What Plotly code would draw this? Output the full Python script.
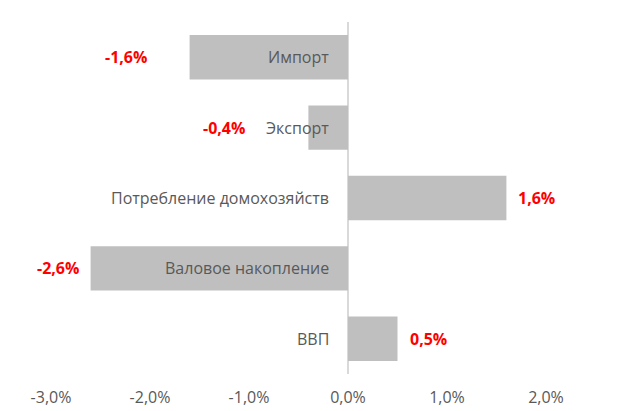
import plotly.graph_objects as go

categories = ["Импорт", "Экспорт", "Потребление домохозяйств", "Валовое накопление", "ВВП"]
values = [-1.6, -0.4, 1.6, -2.6, 0.5]
tick_vals = [-3, -2, -1, 0, 1, 2]

BAR = "#BFBFBF"
INK = "#595959"
RED = "#FF0000"
FONT = "Open Sans, sans-serif"

# extra gap (px) between bar end and value label; Excel pushed two of them further out
label_gap = [41, 61, 10, 10, 10]


def fmt(v):
    return f"{v:.1f}".replace(".", ",") + "%"


fig = go.Figure()
fig.add_trace(go.Bar(
    x=values, y=categories, orientation="h",
    marker=dict(color=BAR, line=dict(width=0)),
    hoverinfo="x+y", showlegend=False,
))

for cat, v, gap in zip(categories, values, label_gap):
    # category name, right-aligned just left of the zero line
    fig.add_annotation(x=0, y=cat, text=cat, showarrow=False, xanchor="right",
                       xshift=-17, font=dict(family=FONT, size=16, color=INK))
    # value label outside the bar end
    fig.add_annotation(x=v, y=cat, text=f"<b>{fmt(v)}</b>", showarrow=False,
                       xanchor="right" if v < 0 else "left",
                       xshift=-gap if v < 0 else gap,
                       font=dict(family=FONT, size=16, color=RED))

fig.update_layout(
    width=620, height=411,
    paper_bgcolor="white", plot_bgcolor="white",
    font=dict(family=FONT, size=13, color=INK),
    bargap=0.37,
    margin=dict(l=43, r=82, t=14, b=45),
    xaxis=dict(range=[-3, 2], tickvals=tick_vals, ticktext=[fmt(t) for t in tick_vals],
               showgrid=False, zeroline=True, zerolinecolor="#D9D9D9", zerolinewidth=2,
               showline=False, ticks="outside", ticklen=9, tickcolor="white",
               tickfont=dict(size=16, color=INK)),
    yaxis=dict(autorange="reversed", showticklabels=False, showgrid=False,
               zeroline=False, showline=False, ticks=""),
)

fig.write_html("out.html")
